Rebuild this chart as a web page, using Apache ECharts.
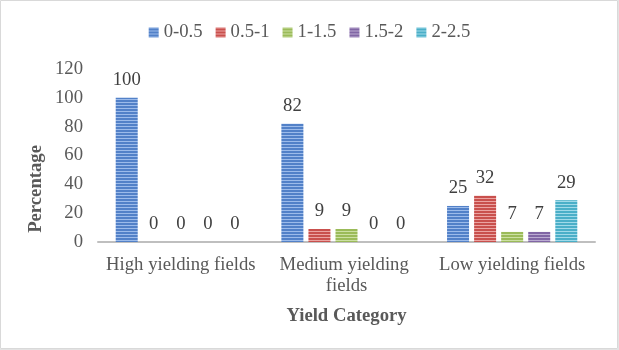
<!DOCTYPE html>
<html>
<head>
<meta charset="utf-8">
<script src="https://cdn.jsdelivr.net/npm/echarts@6/dist/echarts.min.js"></script>
<style>
html,body{margin:0;padding:0;background:#fff;}
#c{width:619px;height:350px;}
</style>
</head>
<body>
<div id="c"></div>
<script>
const categories = ['High yielding fields', 'Medium yielding fields', 'Low yielding fields'];
const seriesNames = ['0-0.5', '0.5-1', '1-1.5', '1.5-2', '2-2.5'];
const s0_05 = [100, 82, 25];
const s05_1 = [0, 9, 32];
const s1_15 = [0, 9, 7];
const s15_2 = [0, 0, 7];
const s2_25 = [0, 0, 29];
const yTicks = [0, 20, 40, 60, 80, 100, 120];

const seriesValues = [s0_05, s05_1, s1_15, s15_2, s2_25];
const baseColors = ['#5281C8', '#C9504D', '#9BBB59', '#8166A5', '#4AAFC8'];
const lightColors = ['#9CBBEA', '#EBA3A1', '#CCE0A3', '#BBABD2', '#A0DAE9'];

function pat(base, light) {
  const c = document.createElement('canvas');
  c.width = 4; c.height = 3;
  const g = c.getContext('2d');
  g.fillStyle = base; g.fillRect(0, 0, 4, 3);
  g.fillStyle = light; g.fillRect(0, 0, 4, 1);
  return { image: c, repeat: 'repeat' };
}

const font = 'Liberation Serif, Times New Roman, serif';
const fs = 18.7;
const chart = echarts.init(document.getElementById('c'));
chart.setOption({
  animation: false,
  textStyle: { fontFamily: font },
  legend: {
    top: 18,
    left: 'center',
    itemWidth: 10,
    itemHeight: 10,
    itemGap: 13,
    icon: 'rect',
    textStyle: { fontFamily: font, fontSize: fs, color: '#595959' },
    data: seriesNames
  },
  grid: { left: 98, right: 24, top: 69, bottom: 108, containLabel: false },
  xAxis: {
    type: 'category',
    data: categories,
    name: 'Yield Category',
    nameLocation: 'middle',
    nameGap: 65,
    nameTextStyle: { fontFamily: font, fontSize: fs, fontWeight: 'bold', color: '#595959' },
    axisLine: { lineStyle: { color: '#bfbfbf', width: 2 } },
    axisTick: { show: false },
    axisLabel: {
      interval: 0, margin: 13, fontFamily: font, fontSize: fs, color: '#595959',
      width: 162, overflow: 'break', lineHeight: 21
    }
  },
  yAxis: {
    type: 'value',
    min: yTicks[0],
    max: yTicks[yTicks.length - 1],
    interval: yTicks[1] - yTicks[0],
    axisLine: { show: false },
    axisTick: { show: false },
    splitLine: { show: false },
    axisLabel: { margin: 15, fontFamily: font, fontSize: fs, color: '#595959' }
  },
  graphic: [{
    type: 'text',
    left: 27,
    top: 145,
    rotation: Math.PI / 2,
    style: { text: 'Percentage', font: 'bold ' + fs + 'px ' + font, fill: '#595959' }
  }, {
    type: 'rect',
    silent: true,
    shape: { x: 0.5, y: 0.5, width: 617, height: 348 },
    style: { fill: null, stroke: '#d9d9d9', lineWidth: 1 }
  }, {
    type: 'rect',
    silent: true,
    shape: { x: 618, y: 0, width: 1, height: 350 },
    style: { fill: '#e3e3e3' }
  }, {
    type: 'rect',
    silent: true,
    shape: { x: 0, y: 349, width: 619, height: 1 },
    style: { fill: '#e3e3e3' }
  }],
  series: seriesNames.map((n, i) => ({
    name: n,
    type: 'bar',
    data: seriesValues[i],
    barWidth: 22,
    barGap: '23%',
    itemStyle: { color: pat(baseColors[i], lightColors[i]) },
    label: { show: true, position: 'top', distance: 8, fontFamily: font, fontSize: fs, color: '#404040' }
  }))
});
</script>
</body>
</html>
